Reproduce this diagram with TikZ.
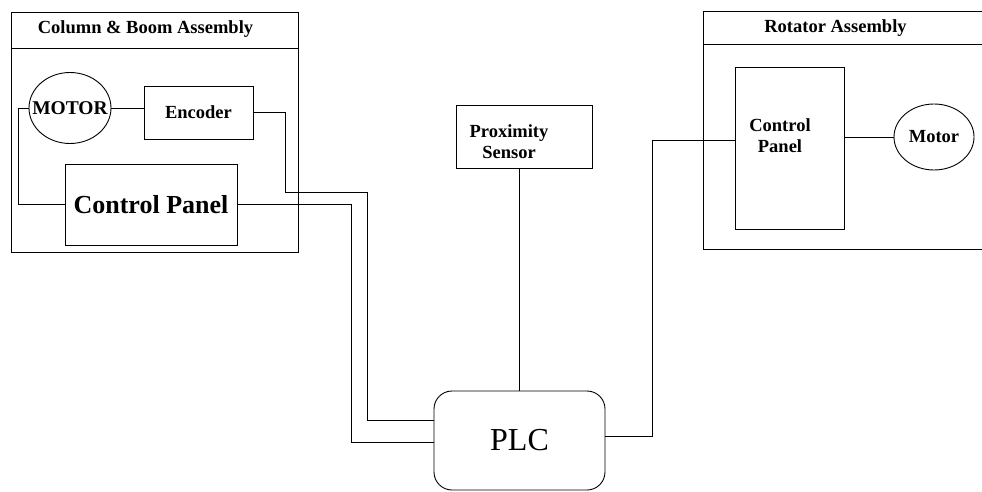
\documentclass[tikz,border=0pt]{standalone}
\usepackage{fontspec}
\setmainfont{Liberation Serif}
\usetikzlibrary{shapes.geometric}

\begin{document}
\begin{tikzpicture}[x=1pt,y=-1pt,line width=0.9pt,
  box/.style={draw,rectangle,inner sep=0pt},
  oval/.style={draw,ellipse,inner sep=0pt},
  txt/.style={font=\bfseries\fontsize{18.5}{21}\selectfont,align=center}]
\useasboundingbox[fill=white] (0,0) rectangle (982,492);
% column & boom assembly
\draw (11,12) rectangle (298,252);
\draw (11,48)--(298,48);
\node[txt,anchor=base] (titleL) at (145.5,34) {Column \& Boom Assembly};
\node[oval,minimum width=82pt,minimum height=71pt,label={[txt,font=\bfseries\fontsize{19.5}{21}\selectfont]center:MOTOR}] (motL) at (70,108) {};
\node[box,txt,minimum width=109pt,minimum height=53pt] (enc) at (198.5,112.5) {Encoder};
\node[box,txt,font=\bfseries\fontsize{26}{28}\selectfont,minimum width=172pt,minimum height=81pt] (cpL) at (151,204.5) {Control Panel};
% rotator assembly
\draw (990,11)--(703,11)--(703,249)--(990,249);
\draw (703,44)--(990,44);
\node[txt,anchor=base] (titleR) at (835.5,33) {Rotator Assembly};
\node[box,minimum width=109pt,minimum height=162pt,label={[txt,xshift=-9.5pt,yshift=12pt]center:Control\\Panel}] (cpR) at (789.5,148) {};
\node[oval,minimum width=80pt,minimum height=66pt,label={[txt]center:Motor}] (motR) at (934,137) {};
% middle
\node[box,minimum width=136pt,minimum height=63pt,label={[txt,xshift=-15pt,yshift=-5.5pt]center:Proximity\\Sensor}] (prox) at (524,136.5) {};
\node[box,rounded corners=18pt,minimum width=171pt,minimum height=99pt,font=\fontsize{32}{34}\selectfont] (plc) at (519.5,440.5) {PLC};
% wiring
\draw (motL.east) -- (motL.east -| enc.west);
\draw (motL.west) -- ++(-10,0) |- (cpL.west);
\draw (enc.east) -| (285,192) -| ([xshift=-66pt,yshift=20pt]plc.west) -- ([yshift=20pt]plc.west);
\draw (cpL.east) -| ([xshift=-82pt,yshift=-1.5pt]plc.west) -- ([yshift=-1.5pt]plc.west);
\draw (plc.north) -- (plc.north |- prox.south);
\draw ([yshift=4.5pt]plc.east) -| ([xshift=-82pt,yshift=8pt]cpR.west) -- ([yshift=8pt]cpR.west);
\draw (cpR.east |- motR.west) -- (motR.west);
\end{tikzpicture}
\end{document}
